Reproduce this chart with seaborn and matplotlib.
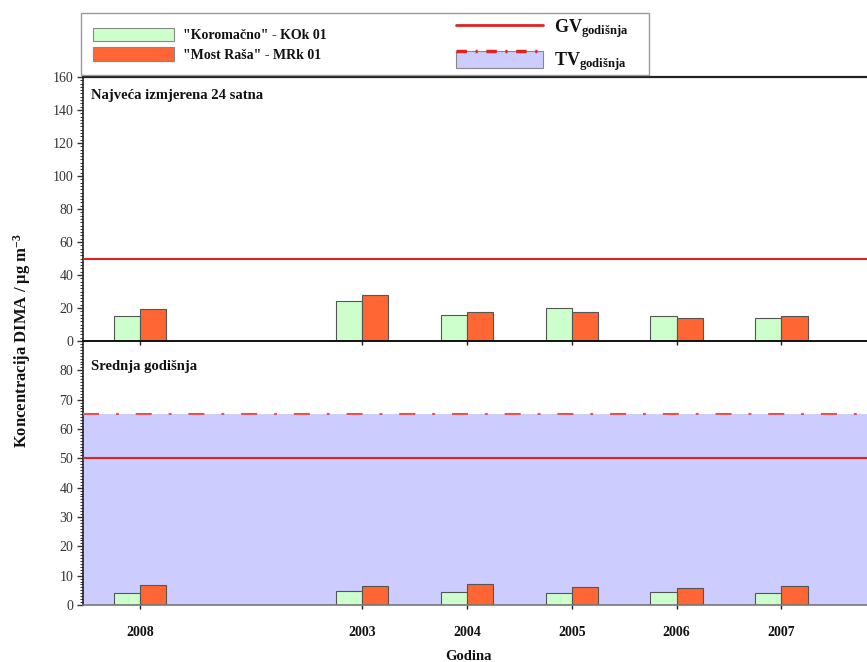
import matplotlib
matplotlib.use("Agg")
import matplotlib.pyplot as plt
import seaborn as sns
import pandas as pd
import numpy as np
from matplotlib.patches import Patch, Rectangle
from matplotlib.lines import Line2D
from matplotlib.ticker import MultipleLocator, FixedLocator
from matplotlib.legend_handler import HandlerBase

# ---- data ----
years = ["2008", "2003", "2004", "2005", "2006", "2007"]
stations = ['"Koromačno" - KOk 01', '"Most Raša" - MRk 01']
max24_kok = [15, 24, 15.6, 20.2, 15.2, 14.1]
max24_mrk = [19.6, 27.7, 17.6, 17.4, 13.7, 15.3]
annual_kok = [4.0, 4.7, 4.3, 4.2, 4.6, 4.2]
annual_mrk = [6.7, 6.5, 7.1, 6.0, 5.7, 6.5]
gv_value = 50
tv_value = 65
limit_labels = [r"GV$_{\mathrm{godišnja}}$", r"TV$_{\mathrm{godišnja}}$"]
panel_titles = ["Najveća izmjerena 24 satna", "Srednja godišnja"]

# ---- layout ----
xpos = [0.0, 2.12, 3.12, 4.12, 5.12, 6.12]
green = "#ccffcc"
orange = "#ff6633"
lavender = "#ccccff"
red = "#dd2222"

sns.set_theme(style="white")
plt.rcParams["font.family"] = ["Liberation Serif", "DejaVu Serif"]
plt.rcParams["mathtext.fontset"] = "custom"
plt.rcParams["mathtext.rm"] = "Liberation Serif:bold"
plt.rcParams["mathtext.it"] = "Liberation Serif:bold"
plt.rcParams["mathtext.bf"] = "Liberation Serif:bold"

fig = plt.figure(figsize=(8.67, 6.62), dpi=100)
W, H = 867, 662
left = 83 / W
ax_top = fig.add_axes([left, 1 - 341 / H, 1 - left, 264 / H])
ax_bot = fig.add_axes([left, 1 - 605 / H, 1 - left, 264 / H])

def make_df(a, b):
    rows = []
    for p, v1, v2 in zip(xpos, a, b):
        rows.append({"pos": p, "val": v1, "station": stations[0]})
        rows.append({"pos": p, "val": v2, "station": stations[1]})
    return pd.DataFrame(rows)

pal = {stations[0]: green, stations[1]: orange}
for ax, a, b, ymax, ticks, minor, title, ty in [
    (ax_top, max24_kok, max24_mrk, 160, np.arange(0, 161, 20), 2, panel_titles[0], 0.93),
    (ax_bot, annual_kok, annual_mrk, 90, np.arange(0, 81, 10), 1, panel_titles[1], 0.905),
]:
    df = make_df(a, b)
    sns.barplot(data=df, x="pos", y="val", hue="station", native_scale=True,
                width=0.5, palette=pal, edgecolor="#555555", linewidth=0.8,
                ax=ax, legend=False, zorder=2, saturation=1)
    ax.set_xlim((83 - 140) / 104.8, (867 - 140) / 104.8)
    ax.set_ylim(0, ymax)
    ax.yaxis.set_major_locator(FixedLocator(ticks))
    ax.yaxis.set_minor_locator(MultipleLocator(minor))
    ax.set_xticks(xpos)
    ax.set_xlabel("")
    ax.set_ylabel("")
    ax.axhline(gv_value, color=red, lw=1.5, zorder=3)
    ax.spines["right"].set_visible(False)
    ax.spines["left"].set_color("#222222")
    ax.spines["left"].set_linewidth(1.2)
    ax.tick_params(axis="y", which="major", direction="out", length=4, width=1,
                   color="#333333", labelsize=10, labelcolor="#333333", pad=3, left=True)
    ax.tick_params(axis="y", which="minor", direction="out", length=2, width=0.7,
                   color="#333333", left=True)
    ax.tick_params(axis="x", direction="out", length=3, width=1, color="#222222", bottom=True)
    ax.text(0.01, ty, title, transform=ax.transAxes,
            fontsize=10.5, fontweight="bold", color="#111111", va="center", ha="left")

ax_top.spines["top"].set_linewidth(1.6)
ax_top.spines["top"].set_color("#222222")
ax_top.spines["bottom"].set_linewidth(1.4)
ax_top.spines["bottom"].set_color("#111111")
ax_top.tick_params(axis="x", labelbottom=False)
ax_bot.spines["top"].set_visible(False)
ax_bot.spines["bottom"].set_color("#777777")
ax_bot.spines["bottom"].set_linewidth(1.2)
ax_bot.set_xticklabels(years, fontsize=10, fontweight="bold", color="#111111")
ax_bot.tick_params(axis="x", pad=12)
ax_bot.axhspan(0, tv_value, color=lavender, zorder=0.5, lw=0)
ax_bot.axhline(tv_value, color="#e05555", lw=1.5, dashes=(7.7, 8.1, 1.4, 8.1), zorder=3)
ax_top.set_zorder(2)

fig.text(0.025, 0.485, r"Koncentracija DIMA / μg m$^{-3}$", rotation=90,
         fontsize=12, fontweight="bold", ha="center", va="center", color="#111111")
fig.text(468 / W, 1 - 656 / H, "Godina", fontsize=10.5, fontweight="bold",
         ha="center", va="center", color="#111111")

# ---- legend ----
# frame
fig.patches.append(Rectangle((81 / W, 1 - 75 / H), (649 - 81) / W, (75 - 13) / H,
                             transform=fig.transFigure, facecolor="white",
                             edgecolor="#999999", lw=1.0, zorder=5))

class TVHandle:
    pass

class HandlerTV(HandlerBase):
    def create_artists(self, legend, orig_handle, xdescent, ydescent, width, height, fontsize, trans):
        r = Rectangle((-xdescent, -ydescent), width, height,
                      facecolor=lavender, edgecolor="#888888", lw=0.8, transform=trans)
        top = -ydescent + height
        l = Line2D([-xdescent, -xdescent + width], [top, top], color="#dd2222", lw=2.5,
                   dashes=(3, 2.5, 0.6, 2.5), transform=trans)
        return [r, l]

h_green = Patch(facecolor=green, edgecolor="#888888", lw=0.8)
h_orange = Patch(facecolor=orange, edgecolor="#888888", lw=0.8)
h_gv = Line2D([], [], color=red, lw=2)
h_tv = TVHandle()

leg1 = fig.legend([h_green, h_orange], stations,
                  loc="upper left", bbox_to_anchor=(93 / W, 1 - 27.5 / H),
                  borderaxespad=0, borderpad=0, frameon=False,
                  handlelength=5.8, handleheight=1.1, fontsize=10,
                  labelspacing=0.38, handletextpad=0.65)
leg1.set_zorder(6)
for t in leg1.get_texts():
    t.set_fontweight("bold")
    t.set_color("#111111")

leg2 = fig.legend([h_gv, h_tv], limit_labels,
                  loc="upper left", bbox_to_anchor=(456 / W, 1 - 17.5 / H),
                  borderaxespad=0, borderpad=0, frameon=False,
                  handlelength=4.8, handleheight=1.05, fontsize=13,
                  labelspacing=0.55, handletextpad=0.65,
                  handler_map={TVHandle: HandlerTV()})
leg2.set_zorder(6)
for t in leg2.get_texts():
    t.set_fontweight("bold")
    t.set_color("#111111")

fig.savefig("out.png", dpi=100)
